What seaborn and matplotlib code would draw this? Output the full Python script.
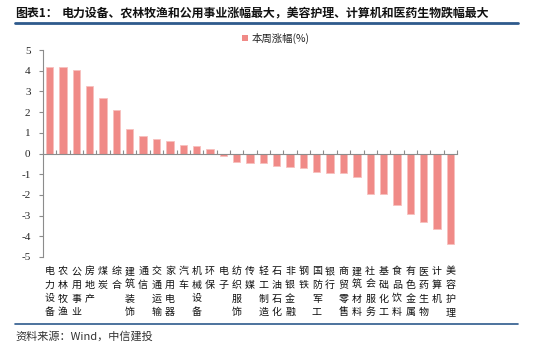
import matplotlib
matplotlib.use("Agg")
import matplotlib.pyplot as plt
import seaborn as sns
import numpy as np
import pandas as pd
from matplotlib.patches import Rectangle
from matplotlib.lines import Line2D

categories = ["电力设备", "农林牧渔", "公用事业", "房地产", "煤炭", "综合", "建筑装饰", "通信",
              "交通运输", "家用电器", "汽车", "机械设备", "环保", "电子", "纺织服饰", "传媒",
              "轻工制造", "石油石化", "非银金融", "钢铁", "国防军工", "银行", "商贸零售",
              "建筑材料", "社会服务", "基础化工", "食品饮料", "有色金属", "医药生物", "计算机", "美容护理"]
values = [4.16, 4.16, 4.02, 3.27, 2.69, 2.10, 1.19, 0.85, 0.69, 0.60, 0.40, 0.35, 0.24,
          -0.11, -0.42, -0.45, -0.48, -0.58, -0.65, -0.69, -0.90, -0.92, -0.95, -1.15,
          -1.98, -1.98, -2.47, -2.90, -3.29, -3.63, -4.35]
yticks = [-5, -4, -3, -2, -1, 0, 1, 2, 3, 4, 5]
series_name = "本周涨幅(%)"
title_head = "图表1："
title_body = "电力设备、农林牧渔和公用事业涨幅最大，美容护理、计算机和医药生物跌幅最大"
source = "资料来源：Wind，中信建投"

sns.set_style("white")
plt.rcParams['font.family'] = ['Noto Sans CJK SC', 'DejaVu Sans']

W, H = 550, 349
fig = plt.figure(figsize=(5.5, 3.49), dpi=100)
ax = fig.add_axes([43 / W, 1 - 257 / H, (457 - 43) / W, (257 - 50) / H])

df = pd.DataFrame({"cat": categories, "val": values})
bar_color = "#F08A87"
sns.barplot(data=df, x="cat", y="val", color=bar_color, width=0.55, ax=ax,
            edgecolor="#F8C0BE", linewidth=0.6, saturation=1)

ax.set_xlim(-0.5, len(categories) - 0.5)
ax.set_ylim(-5, 5)
ax.set_yticks(yticks)
ax.set_yticklabels([str(t) for t in yticks], fontsize=8, family=['Liberation Serif'])
ax.set_xlabel("")
ax.set_ylabel("")

axis_color = "#8C8C8C"
for s in ["top", "right"]:
    ax.spines[s].set_visible(False)
ax.spines["left"].set_color(axis_color)
ax.spines["left"].set_linewidth(0.8)
ax.spines["bottom"].set_position(("data", 0))
ax.spines["bottom"].set_color(axis_color)
ax.spines["bottom"].set_linewidth(0.8)

ax.tick_params(axis="y", direction="out", length=3, color=axis_color, width=0.8, pad=6, left=True)
ax.set_xticks([])
ax.set_xticks(np.arange(-0.5, len(categories), 1.0), minor=True)
ax.tick_params(axis="x", which="minor", direction="in", length=3, color=axis_color, width=0.8, bottom=True)

trans = ax.get_xaxis_transform()
for i, c in enumerate(categories):
    ax.text(i, -0.045, "\n".join(c), transform=trans, ha="center", va="top",
            fontsize=7.2, linespacing=1.45, color="#111111")

# legend
fig.patches.append(Rectangle((242 / W, 1 - 41 / H), 6 / W, 6 / H, transform=fig.transFigure,
                             facecolor=bar_color, edgecolor="none"))
fig.text(252 / W, 1 - 38 / H, series_name, fontsize=7.5, va="center", ha="left", color="#222222")

# title & lines
fig.text(15 / W, 1 - 13 / H, title_head, fontsize=8.6, fontweight="bold", va="center", ha="left", color="#111111")
fig.text(62 / W, 1 - 13 / H, title_body, fontsize=8.6, fontweight="bold", va="center", ha="left", color="#111111")
fig.add_artist(Line2D([15 / W, 518 / W], [1 - 23 / H, 1 - 23 / H], transform=fig.transFigure,
                      color="#2E5A8C", linewidth=2))
fig.add_artist(Line2D([15 / W, 518 / W], [1 - 324 / H, 1 - 324 / H], transform=fig.transFigure,
                      color="#2E5A8C", linewidth=1.2))
fig.text(15 / W, 1 - 336 / H, source, fontsize=8, style="italic", va="center", ha="left", color="#333333")

fig.savefig("out.png", dpi=100)
